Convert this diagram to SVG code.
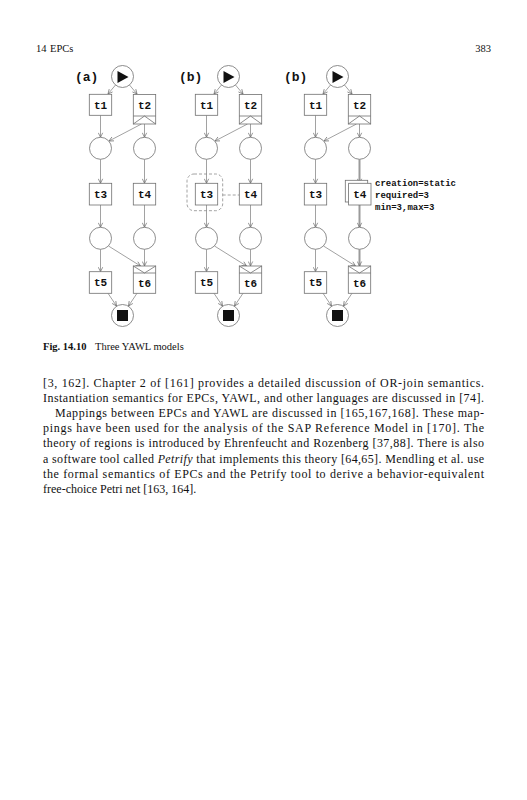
<svg xmlns="http://www.w3.org/2000/svg" width="527" height="800" viewBox="0 0 527 800">
<style>
.bg{fill:#fff}
.box{fill:#fff;stroke:#707070;stroke-width:0.8}
.circ{fill:#fff;stroke:#707070;stroke-width:0.8}
.dec{fill:none;stroke:#707070;stroke-width:0.8}
.arc{fill:none;stroke:#7a7a7a;stroke-width:0.7}
.thick{fill:none;stroke:#9a9a9a;stroke-width:2}
.dash{fill:none;stroke:#8a8a8a;stroke-width:0.8;stroke-dasharray:3,2}
.lbl{font-family:"Liberation Mono","DejaVu Sans Mono",monospace;font-weight:bold;font-size:11px;text-anchor:middle;fill:#111}
.pl{font-family:"Liberation Mono","DejaVu Sans Mono",monospace;font-weight:bold;font-size:13px;fill:#111}
.ann{font-family:"Liberation Mono","DejaVu Sans Mono",monospace;font-weight:bold;font-size:9px;fill:#111}
.body{font-family:"Liberation Serif","Times New Roman",serif;font-size:12px;fill:#111}
.hdr{font-family:"Liberation Serif","Times New Roman",serif;font-size:10.5px;fill:#111}
.cap{font-family:"Liberation Serif","Times New Roman",serif;font-size:10.5px;fill:#111}
</style>
<defs>
<marker id="ah" markerUnits="userSpaceOnUse" markerWidth="6" markerHeight="6" refX="5" refY="3" orient="auto">
<path d="M0.5,0.8 L5,3 L0.5,5.2" fill="none" stroke="#6a6a6a" stroke-width="0.7"/>
</marker>
</defs>
<rect class="bg" x="0" y="0" width="527" height="800"/>
<g id="header">
<text class="hdr" x="36" y="52">14</text>
<text class="hdr" x="50" y="52">EPCs</text>
<text class="hdr" x="491" y="52" text-anchor="end">383</text>
</g>
<g id="panel-labels">
<text class="pl" x="75" y="81">(a)</text>
<text class="pl" x="179" y="81">(b)</text>
<text class="pl" x="284" y="81">(b)</text>
</g>

<g id="connectors">
<g id="conn-a">
<line class="arc" x1="115.5" y1="85" x2="108" y2="94" marker-end="url(#ah)"/>
<line class="arc" x1="129.5" y1="85" x2="137" y2="94" marker-end="url(#ah)"/>
<line class="arc" x1="100.5" y1="115.3" x2="100.5" y2="137.3" marker-end="url(#ah)"/>
<line class="arc" x1="144.5" y1="124" x2="144.5" y2="137.3" marker-end="url(#ah)"/>
<line class="arc" x1="141.5" y1="124" x2="109" y2="141" marker-end="url(#ah)"/>
<line class="arc" x1="100.5" y1="159.3" x2="100.5" y2="183.3" marker-end="url(#ah)"/>
<line class="arc" x1="144.5" y1="159.3" x2="144.5" y2="183.3" marker-end="url(#ah)"/>
<line class="arc" x1="100.5" y1="205" x2="100.5" y2="227.3" marker-end="url(#ah)"/>
<line class="arc" x1="144.5" y1="205" x2="144.5" y2="227.3" marker-end="url(#ah)"/>
<line class="arc" x1="100.5" y1="249.3" x2="100.5" y2="271.7" marker-end="url(#ah)"/>
<line class="arc" x1="144.5" y1="249.3" x2="144.5" y2="266" marker-end="url(#ah)"/>
<line class="arc" x1="108.5" y1="246" x2="140.5" y2="266" marker-end="url(#ah)"/>
<line class="arc" x1="108" y1="293.3" x2="116.5" y2="306" marker-end="url(#ah)"/>
<line class="arc" x1="137" y1="293.3" x2="128.5" y2="306" marker-end="url(#ah)"/>
</g>
<g id="conn-b" transform="translate(106,0)">
<line class="arc" x1="115.5" y1="85" x2="108" y2="94" marker-end="url(#ah)"/>
<line class="arc" x1="129.5" y1="85" x2="137" y2="94" marker-end="url(#ah)"/>
<line class="arc" x1="100.5" y1="115.3" x2="100.5" y2="137.3" marker-end="url(#ah)"/>
<line class="arc" x1="144.5" y1="124" x2="144.5" y2="137.3" marker-end="url(#ah)"/>
<line class="arc" x1="141.5" y1="124" x2="109" y2="141" marker-end="url(#ah)"/>
<line class="arc" x1="100.5" y1="159.3" x2="100.5" y2="183.3" marker-end="url(#ah)"/>
<line class="arc" x1="144.5" y1="159.3" x2="144.5" y2="183.3" marker-end="url(#ah)"/>
<line class="arc" x1="100.5" y1="205" x2="100.5" y2="227.3" marker-end="url(#ah)"/>
<line class="arc" x1="144.5" y1="205" x2="144.5" y2="227.3" marker-end="url(#ah)"/>
<line class="arc" x1="100.5" y1="249.3" x2="100.5" y2="271.7" marker-end="url(#ah)"/>
<line class="arc" x1="144.5" y1="249.3" x2="144.5" y2="266" marker-end="url(#ah)"/>
<line class="arc" x1="108.5" y1="246" x2="140.5" y2="266" marker-end="url(#ah)"/>
<line class="arc" x1="108" y1="293.3" x2="116.5" y2="306" marker-end="url(#ah)"/>
<line class="arc" x1="137" y1="293.3" x2="128.5" y2="306" marker-end="url(#ah)"/>
<line class="dash" x1="116.7" y1="195" x2="133.3" y2="195"/>
</g>
<g id="conn-c" transform="translate(215,0)">
<line class="arc" x1="115.5" y1="85" x2="108" y2="94" marker-end="url(#ah)"/>
<line class="arc" x1="129.5" y1="85" x2="137" y2="94" marker-end="url(#ah)"/>
<line class="arc" x1="100.5" y1="115.3" x2="100.5" y2="137.3" marker-end="url(#ah)"/>
<line class="arc" x1="144.5" y1="124" x2="144.5" y2="137.3" marker-end="url(#ah)"/>
<line class="arc" x1="141.5" y1="124" x2="109" y2="141" marker-end="url(#ah)"/>
<line class="arc" x1="100.5" y1="159.3" x2="100.5" y2="183.3" marker-end="url(#ah)"/>
<line class="thick" x1="144.5" y1="159.3" x2="144.5" y2="183.3" marker-end="url(#ah)"/>
<line class="arc" x1="100.5" y1="205" x2="100.5" y2="227.3" marker-end="url(#ah)"/>
<line class="thick" x1="144.5" y1="205" x2="144.5" y2="227.3" marker-end="url(#ah)"/>
<line class="arc" x1="100.5" y1="249.3" x2="100.5" y2="271.7" marker-end="url(#ah)"/>
<line class="thick" x1="144.5" y1="249.3" x2="144.5" y2="266" marker-end="url(#ah)"/>
<line class="arc" x1="108.5" y1="246" x2="140.5" y2="266" marker-end="url(#ah)"/>
<line class="arc" x1="108" y1="293.3" x2="116.5" y2="306" marker-end="url(#ah)"/>
<line class="arc" x1="137" y1="293.3" x2="128.5" y2="306" marker-end="url(#ah)"/>
</g>
</g>

<g id="a-start"><circle class="circ" cx="122.5" cy="76.5" r="11"/><path d="M117.5,71 L128.5,77 L117.5,83 Z" fill="#111"/></g>
<g id="a-t1"><rect class="box" x="89.3" y="94.3" width="22.4" height="21"/><text class="lbl" x="100.5" y="108.5">t1</text></g>
<g id="a-t2"><rect class="box" x="133.3" y="94.5" width="22.4" height="29.5"/><path class="dec" d="M133.3,116 H155.7 M133.3,124 L144.5,116 L155.7,124"/><text class="lbl" x="144.5" y="109">t2</text></g>
<g id="a-p1"><circle class="circ" cx="100.5" cy="148.3" r="11"/></g>
<g id="a-p2"><circle class="circ" cx="144.5" cy="148.3" r="11"/></g>
<g id="a-t3"><rect class="box" x="89.3" y="183.3" width="22.4" height="21.7"/><text class="lbl" x="100.5" y="197.8">t3</text></g>
<g id="a-t4"><rect class="box" x="133.3" y="183.3" width="22.4" height="21.7"/><text class="lbl" x="144.5" y="197.8">t4</text></g>
<g id="a-p3"><circle class="circ" cx="100.5" cy="238.3" r="11"/></g>
<g id="a-p4"><circle class="circ" cx="144.5" cy="238.3" r="11"/></g>
<g id="a-t5"><rect class="box" x="89.3" y="271.7" width="22.4" height="21.6"/><text class="lbl" x="100.5" y="286">t5</text></g>
<g id="a-t6"><rect class="box" x="133.3" y="266" width="22.4" height="27.3"/><path class="dec" d="M133.3,273 H155.7 M133.3,266 L144.5,273 L155.7,266"/><text class="lbl" x="144.5" y="287">t6</text></g>
<g id="a-end"><circle class="circ" cx="122.5" cy="315.5" r="11"/><rect x="117" y="310" width="11" height="11" fill="#111"/></g>

<g id="b-start"><circle class="circ" cx="228.5" cy="76.5" r="11"/><path d="M223.5,71 L234.5,77 L223.5,83 Z" fill="#111"/></g>
<g id="b-t1"><rect class="box" x="195.3" y="94.3" width="22.4" height="21"/><text class="lbl" x="206.5" y="108.5">t1</text></g>
<g id="b-t2"><rect class="box" x="239.3" y="94.5" width="22.4" height="29.5"/><path class="dec" d="M239.3,116 H261.7 M239.3,124 L250.5,116 L261.7,124"/><text class="lbl" x="250.5" y="109">t2</text></g>
<g id="b-p1"><circle class="circ" cx="206.5" cy="148.3" r="11"/></g>
<g id="b-p2"><circle class="circ" cx="250.5" cy="148.3" r="11"/></g>
<g id="b-t3"><rect class="dash" x="187" y="174" width="35.7" height="36.7" rx="7"/><rect class="box" x="195.3" y="183.3" width="22.4" height="21.7"/><text class="lbl" x="206.5" y="197.8">t3</text></g>
<g id="b-t4"><rect class="box" x="239.3" y="183.3" width="22.4" height="21.7"/><text class="lbl" x="250.5" y="197.8">t4</text></g>
<g id="b-p3"><circle class="circ" cx="206.5" cy="238.3" r="11"/></g>
<g id="b-p4"><circle class="circ" cx="250.5" cy="238.3" r="11"/></g>
<g id="b-t5"><rect class="box" x="195.3" y="271.7" width="22.4" height="21.6"/><text class="lbl" x="206.5" y="286">t5</text></g>
<g id="b-t6"><rect class="box" x="239.3" y="266" width="22.4" height="27.3"/><path class="dec" d="M239.3,273 H261.7 M239.3,266 L250.5,273 L261.7,266"/><text class="lbl" x="250.5" y="287">t6</text></g>
<g id="b-end"><circle class="circ" cx="228.5" cy="315.5" r="11"/><rect x="223" y="310" width="11" height="11" fill="#111"/></g>

<g id="c-start"><circle class="circ" cx="337.5" cy="76.5" r="11"/><path d="M332.5,71 L343.5,77 L332.5,83 Z" fill="#111"/></g>
<g id="c-t1"><rect class="box" x="304.3" y="94.3" width="22.4" height="21"/><text class="lbl" x="315.5" y="108.5">t1</text></g>
<g id="c-t2"><rect class="box" x="348.3" y="94.5" width="22.4" height="29.5"/><path class="dec" d="M348.3,116 H370.7 M348.3,124 L359.5,116 L370.7,124"/><text class="lbl" x="359.5" y="109">t2</text></g>
<g id="c-p1"><circle class="circ" cx="315.5" cy="148.3" r="11"/></g>
<g id="c-p2"><circle class="circ" cx="359.5" cy="148.3" r="11"/></g>
<g id="c-t3"><rect class="box" x="304.3" y="183.3" width="22.4" height="21.7"/><text class="lbl" x="315.5" y="197.8">t3</text></g>
<g id="c-t4"><rect class="box" x="345.3" y="180.3" width="22.4" height="21.7"/><rect class="box" x="348.6" y="183.3" width="22.4" height="21.7"/><text class="lbl" x="359.8" y="197.8">t4</text>
<text class="ann" x="375" y="186">creation=static</text>
<text class="ann" x="375" y="198">required=3</text>
<text class="ann" x="375" y="209.5">min=3,max=3</text></g>
<g id="c-p3"><circle class="circ" cx="315.5" cy="238.3" r="11"/></g>
<g id="c-p4"><circle class="circ" cx="359.5" cy="238.3" r="11"/></g>
<g id="c-t5"><rect class="box" x="304.3" y="271.7" width="22.4" height="21.6"/><text class="lbl" x="315.5" y="286">t5</text></g>
<g id="c-t6"><rect class="box" x="348.3" y="266" width="22.4" height="27.3"/><path class="dec" d="M348.3,273 H370.7 M348.3,266 L359.5,273 L370.7,266"/><text class="lbl" x="359.5" y="287">t6</text></g>
<g id="c-end"><circle class="circ" cx="337.5" cy="315.5" r="11"/><rect x="332" y="310" width="11" height="11" fill="#111"/></g>

<g id="caption">
<text class="cap" x="43" y="350"><tspan font-weight="bold">Fig. 14.10</tspan><tspan x="95">Three YAWL models</tspan></text>
</g>
<g id="body">
<text class="body" x="43" y="387" textLength="441" lengthAdjust="spacing">[3, 162]. Chapter 2 of [161] provides a detailed discussion of OR-join semantics.</text>
<text class="body" x="43" y="402" textLength="441" lengthAdjust="spacing">Instantiation semantics for EPCs, YAWL, and other languages are discussed in [74].</text>
<text class="body" x="55" y="417" textLength="429" lengthAdjust="spacing">Mappings between EPCs and YAWL are discussed in [165,167,168]. These map-</text>
<text class="body" x="43" y="432" textLength="441" lengthAdjust="spacing">pings have been used for the analysis of the SAP Reference Model in [170]. The</text>
<text class="body" x="43" y="447" textLength="441" lengthAdjust="spacing">theory of regions is introduced by Ehrenfeucht and Rozenberg [37,88]. There is also</text>
<text class="body" x="43" y="463" textLength="441" lengthAdjust="spacing">a software tool called <tspan font-style="italic">Petrify</tspan> that implements this theory [64,65]. Mendling et al. use</text>
<text class="body" x="43" y="478" textLength="441" lengthAdjust="spacing">the formal semantics of EPCs and the Petrify tool to derive a behavior-equivalent</text>
<text class="body" x="43" y="493">free-choice Petri net [163, 164].</text>
</g>
</svg>
